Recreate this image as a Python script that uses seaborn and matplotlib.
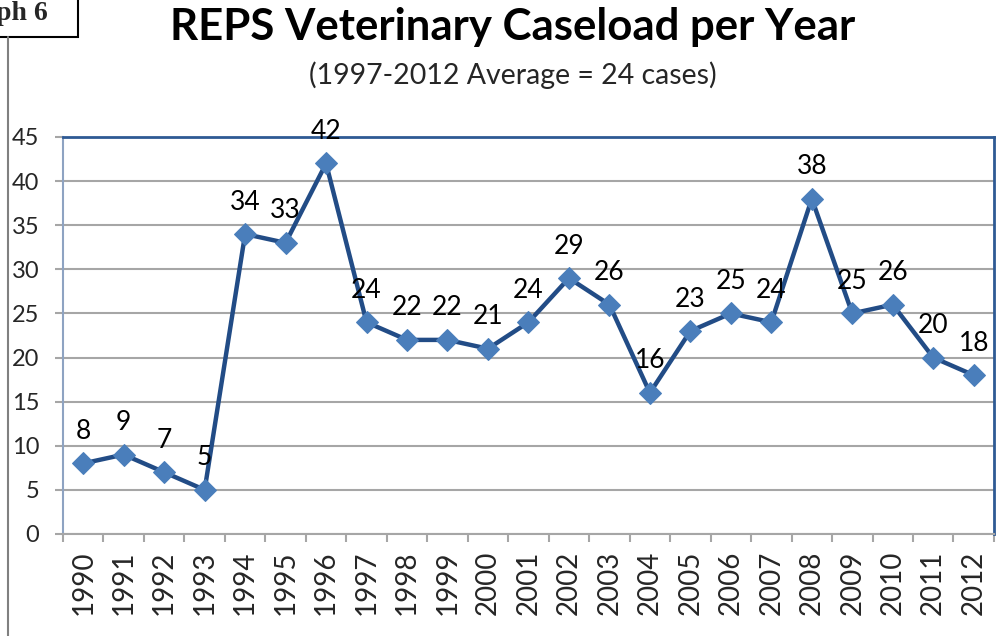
import numpy as np
import pandas as pd
import matplotlib.pyplot as plt
import matplotlib.patches as patches
from matplotlib.lines import Line2D
import seaborn as sns

# Caseload values
years = [str(y) for y in range(1990, 2013)]
cases = [8, 9, 7, 5, 34, 33, 42, 24, 22, 22, 21, 24, 29, 26, 16, 23, 25, 24, 38, 25, 26, 20, 18]
y_ticks = [0, 5, 10, 15, 20, 25, 30, 35, 40, 45]

title = "REPS Veterinary Caseload per Year"
subtitle = "(1997-2012 Average = 24 cases)"

sns.set_style("white")
plt.rcParams['font.family'] = ['Lato', 'DejaVu Sans']

df = pd.DataFrame({"year": years, "cases": cases})
df["pos"] = np.arange(len(years))

fig = plt.figure(figsize=(10.04, 6.36), dpi=100)
ax = fig.add_axes([0.0627, 0.1604, 0.9273, 0.6242])

sns.lineplot(data=df, x="pos", y="cases", ax=ax, color="#224C86", linewidth=3.2,
             marker="D", markersize=11, markerfacecolor="#4A7EBB", markeredgecolor="#4A7EBB")

# value labels above each point
for p, v in zip(df["pos"], df["cases"]):
    ax.annotate(str(v), (p, v), xytext=(0, 14), textcoords="offset points",
                ha="center", va="bottom", fontsize=19, color="black")

ax.set_xlim(-0.5, len(years) - 0.5)
ax.set_ylim(0, 45)
ax.set_yticks(y_ticks)
ax.set_yticklabels([str(t) for t in y_ticks], fontsize=17)
ax.yaxis.grid(True, color="#A6A6A6", linewidth=1.5)
ax.set_axisbelow(True)

# category labels at centers, ticks at boundaries
ax.set_xticks(df["pos"])
ax.set_xticklabels(years, rotation=90, fontsize=20)
ax.set_xticks(np.arange(len(years) + 1) - 0.5, minor=True)
ax.tick_params(axis="x", which="major", length=0, pad=12)
ax.tick_params(axis="x", which="minor", length=6, width=1.5, color="#A6A6A6", direction="out", bottom=True)
ax.tick_params(axis="y", length=6, width=1.5, color="#A6A6A6", direction="out", left=True, pad=11)
ax.set_xlabel("")
ax.set_ylabel("")

for side in ["top", "right"]:
    ax.spines[side].set_color("#2E5A94")
    ax.spines[side].set_linewidth(2)
ax.spines["left"].set_color("#8EA3C2")
ax.spines["left"].set_linewidth(1.5)
ax.spines["bottom"].set_color("#A6A6A6")
ax.spines["bottom"].set_linewidth(1.5)

fig.text(0.511, 0.957, title, ha="center", va="center", fontsize=31.5, fontweight="bold", color="black")
fig.text(0.511, 0.882, subtitle, ha="center", va="center", fontsize=20.5)

# leftover page decoration: "Graph 6" box and vertical rule
fig.patches.append(patches.Rectangle((-0.01, 0.942), 0.088, 0.07, transform=fig.transFigure,
                                     fill=False, edgecolor="black", linewidth=1.5))
fig.text(0.048, 0.978, "ph 6", ha="right", va="center", fontsize=20, fontweight="bold",
         family=["Liberation Serif", "DejaVu Serif"])
fig.lines.append(Line2D([0.008, 0.008], [0.0, 0.942], transform=fig.transFigure,
                        color="#808080", linewidth=1.5))

fig.savefig("out.png", dpi=100)
